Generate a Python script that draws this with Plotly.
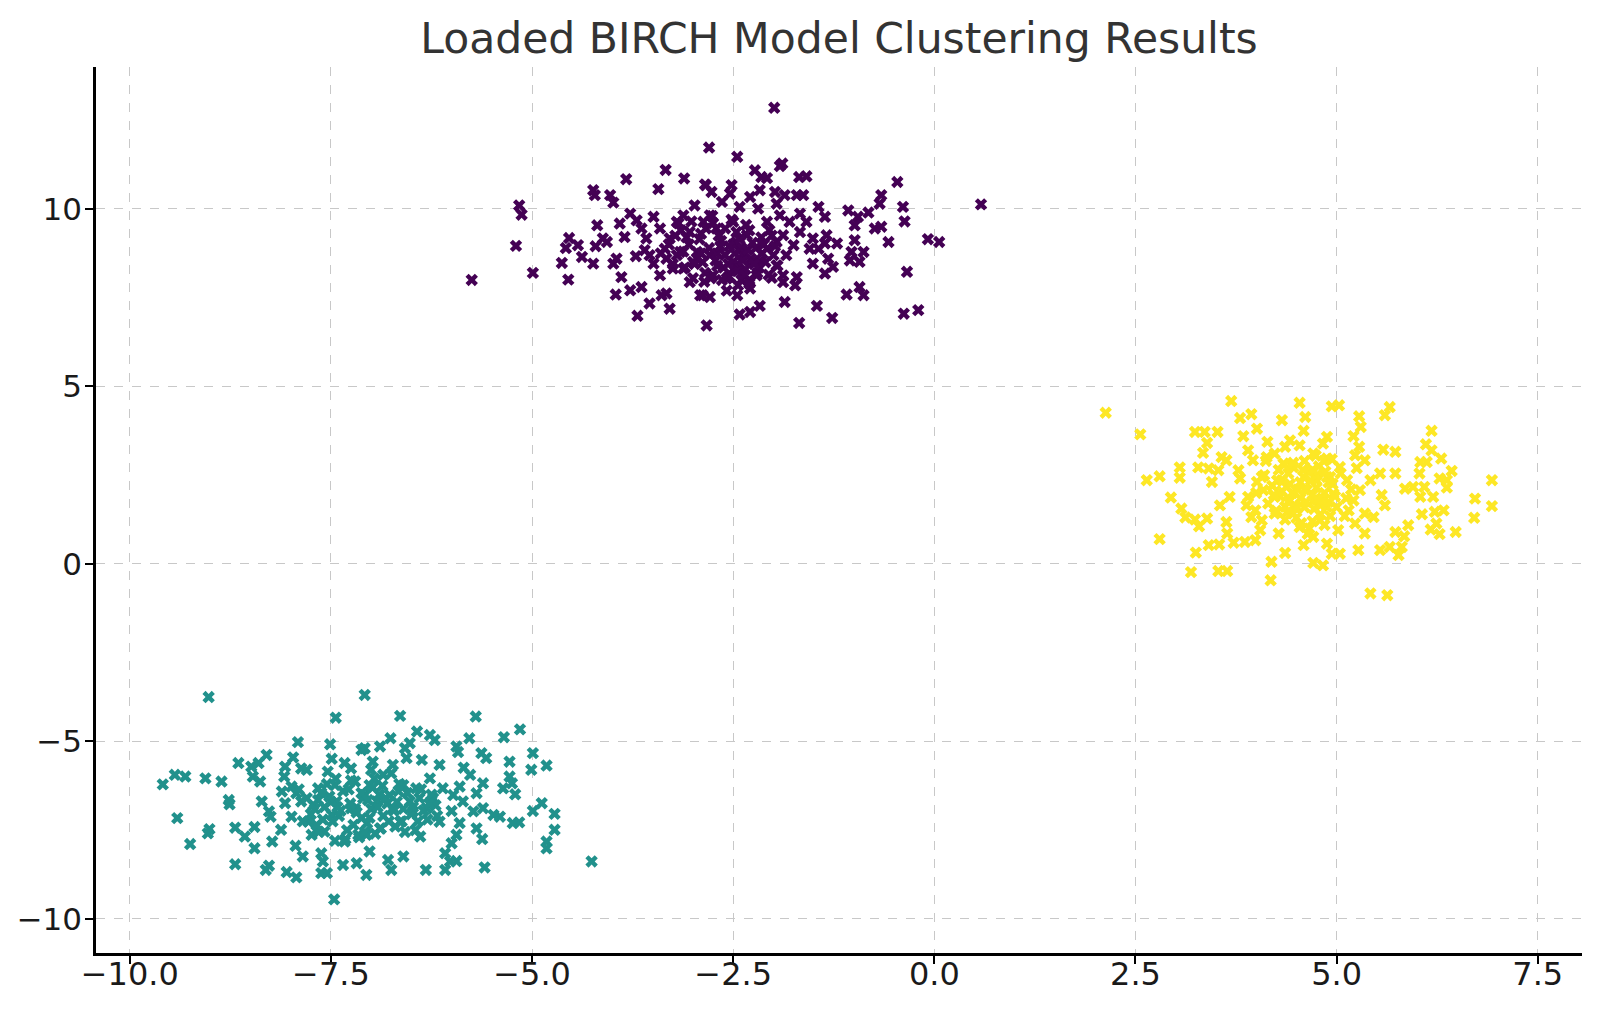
import plotly.graph_objects as go

# cluster points (x, y in data units)
purple_x = [
    -5.75, -5.16, -5.13, -5.20, -4.99, -4.24, -4.22, -4.03, -3.99, -3.83, -3.43, -3.34, -3.11, -2.84, -2.80,
    -4.54, -4.58, -4.43, -4.38, -4.63, -4.55, -4.19, -4.21, -4.12, -4.24, -4.07, -3.99, -3.95, -3.89, -3.96,
    -3.85, -3.91, -3.78, -3.70, -3.71, -3.78, -3.64, -3.54, -3.69, -3.49, -3.60, -3.64, -3.49, -3.41, -3.29,
    -3.33, -3.39, -3.41, -3.35, -3.29, -3.20, -3.12, -2.98, -3.04, -3.16, -3.12, -3.04, -2.91, -2.95, -2.87,
    -3.00, -3.33, -3.25, -3.54, -3.58, -2.83,
    -1.99, -2.45, -1.92, -1.89, -2.23, -2.15, -2.08, -1.68, -1.59, -2.85, -2.77, -2.52, -2.54, -2.29, -2.17,
    -1.98, -1.86, -1.71, -1.63, -1.96, -2.64, -2.42, -2.19, -0.46, -0.66, -0.68, -0.39, -0.37, -0.08, 0.06,
    -0.34, -0.38, -0.20, -1.09, -0.93, -0.88, -1.46, -1.27, -1.68, -1.86, -2.17, -2.29, -2.42, -2.79, -2.45,
    -1.07, -0.95, -0.82, -0.99, -0.74, -0.66, -0.57, -0.99, -1.03, -0.88, -0.93, -1.05, -1.21, -1.34, -1.36,
    -1.44, -1.36, -1.32, -1.26, -1.36, -1.51, -1.55, -1.67, -1.59, -1.67, -1.80, -1.88, -1.75, -1.84, -1.71,
    -1.73, -1.88, -2.02, -1.96, -2.08, -2.17, -2.21, -2.29, -2.38, -2.33, -2.08, -2.50, -2.46, -2.50, -2.58,
    -2.75, -2.79, -2.71, -2.79, -2.67, -2.44, -2.25, -1.96, -1.92, -1.51, -1.44, -2.88, -1.88, 0.58,
    -3.05, -2.95, -2.90, -2.85, -2.80, -2.75, -2.70, -2.65, -2.60, -2.55, -2.50, -2.45, -2.40, -2.35, -2.30,
    -2.28, -2.22, -2.20, -2.15, -2.10, -3.20, -3.15, -3.10, -3.00, -2.60, -2.40, -2.30, -2.50, -2.70, -2.90,
    -3.30, -3.40, -2.00, -2.05, -1.95,
    -2.45, -2.38, -2.32, -2.42, -2.36, -2.48, -2.26, -2.55, -2.62, -2.68, -2.72, -2.78, -2.84, -2.92, -2.98,
    -3.08, -3.12, -3.18, -3.25, -2.18, -2.12, -2.06, -2.02, -1.98, -2.44, -2.34, -2.52, -2.64, -2.76, -2.88,
    -3.02, -2.56, -2.66, -2.46, -2.30, -2.24, -2.14, -2.86, -3.22, -2.58,
]
purple_y = [
    8.00, 10.10, 9.84, 8.96, 8.20, 10.53, 10.39, 10.39, 10.18, 10.84, 10.56, 11.10, 10.86, 10.67, 11.73,
    9.18, 8.90, 8.98, 8.65, 8.48, 8.01, 9.54, 8.95, 9.17, 8.46, 9.07, 8.46, 8.60, 8.08, 7.59,
    9.21, 9.59, 9.87, 9.68, 8.67, 7.71, 7.80, 7.34, 6.99, 8.46, 8.84, 9.45, 9.78, 9.45, 7.19,
    7.62, 7.57, 8.13, 8.88, 9.17, 9.64, 9.82, 10.10, 9.35, 8.79, 8.32, 7.94, 7.57, 8.79, 9.64,
    8.51, 8.60, 8.32, 8.70, 9.17, 6.72,
    12.85, 11.47, 11.21, 11.28, 11.09, 10.90, 10.87, 10.90, 10.92, 10.69, 10.48, 10.67, 10.43, 10.34, 10.53,
    10.48, 10.39, 10.39, 10.39, 10.15, 10.20, 10.06, 10.01, 10.76, 10.39, 10.15, 10.06, 9.65, 9.15, 9.07,
    8.23, 7.05, 7.15, 7.59, 7.80, 7.57, 7.27, 6.93, 6.79, 7.38, 7.27, 7.10, 7.03, 7.52, 7.57,
    9.96, 9.78, 9.90, 9.54, 9.45, 9.50, 9.07, 9.12, 8.79, 8.79, 8.51, 8.55, 9.03, 9.26, 9.03,
    10.06, 9.78, 8.60, 8.37, 8.18, 8.46, 8.88, 9.35, 9.64, 9.87, 9.64, 9.26, 8.98, 8.70, 8.08,
    7.85, 7.94, 8.06, 8.41, 8.88, 8.51, 8.13, 7.76, 8.70, 9.26, 9.64, 9.64, 9.07, 8.51, 8.04,
    8.13, 8.70, 9.45, 9.82, 9.26, 8.27, 8.51, 9.07, 9.82, 9.17, 8.88, 7.57, 8.13, 10.13,
    9.00, 8.60, 9.30, 8.20, 8.90, 9.60, 8.40, 9.10, 8.70, 8.10, 9.00, 8.45, 8.90, 8.30, 9.40,
    8.60, 8.90, 8.20, 9.20, 8.50, 8.70, 9.40, 8.35, 8.05, 9.45, 8.00, 8.00, 8.30, 8.75, 8.75,
    9.00, 8.75, 8.70, 9.40, 8.40,
    8.25, 8.55, 8.85, 9.15, 8.15, 8.75, 9.05, 8.95, 8.35, 9.25, 8.55, 8.05, 9.45, 9.15, 8.45,
    9.20, 8.80, 9.60, 8.45, 8.35, 9.00, 8.15, 9.25, 8.95, 7.85, 9.55, 9.70, 8.00, 9.80, 8.50,
    9.65, 8.45, 8.95, 9.35, 7.90, 8.45, 8.75, 7.95, 9.25, 7.70,
]

teal_x = [
    -9.02, -9.59, -9.44, -9.31, -9.06, -8.86, -9.41, -9.25, -9.03, -9.01, -8.77, -8.76, -8.65, -8.69, -8.69,
    -8.57, -8.45, -8.45, -8.49, -8.40, -8.30, -8.47, -8.38, -8.36, -8.27, -8.25, -8.23, -8.27, -8.31, -8.12,
    -8.05, -7.93, -7.94, -7.85, -7.91, -7.97, -8.07, -8.08, -7.87, -7.80, -8.11, -8.07, -7.99, -7.93, -7.87,
    -7.78, -7.74, -7.66, -7.72, -7.62, -7.60, -7.62, -7.55, -7.46, -7.44, -7.51, -7.49, -7.54, -7.45, -7.43,
    -7.49, -7.58, -7.33, -7.25, -7.20, -7.35, -7.18, -7.08, -7.12, -7.08, -7.12, -7.25, -7.33, -7.16, -7.06,
    -7.66, -7.99,
    -6.64, -5.70, -5.15, -5.35, -6.43, -6.27, -6.21, -5.78, -6.76, -6.52, -5.94, -5.92, -7.08, -6.89, -6.58,
    -5.63, -5.57, -5.28, -4.99, -5.01, -4.82, -5.85, -5.77, -5.28, -5.25, -5.36, -5.21, -5.61, -5.69, -5.90,
    -4.88, -4.99, -4.72, -4.72, -4.82, -4.82, -4.26, -5.16, -5.24, -5.40, -5.48, -5.61, -5.73, -5.69, -5.62,
    -5.90, -5.94, -6.00, -5.86, -5.59, -5.94, -6.08, -6.08, -6.02, -6.32, -6.75, -6.79, -6.60, -6.39, -6.15,
    -6.31, -6.48, -6.64, -6.73, -6.89, -7.02, -7.06, -6.93, -7.02, -6.85, -6.73, -6.56, -6.37, -6.15, -6.27,
    -6.11, -6.44, -6.60, -6.77, -6.52, -6.23, -5.98, -6.98, -6.00,
    -7.50, -7.40, -7.35, -7.30, -7.20, -7.10, -7.05, -7.00, -6.95, -6.90, -6.85, -6.80, -6.70, -6.65, -7.15,
    -7.45, -7.60, -7.70, -7.55, -6.60, -6.50, -6.40, -6.30, -6.20, -7.25, -7.00, -6.75, -7.80, -7.65, -6.45,
    -7.52, -7.48, -7.42, -7.38, -7.28, -7.22, -7.18, -7.12, -7.02, -6.98, -6.92, -6.88, -6.82, -6.72, -6.68,
    -6.62, -6.55, -6.48, -6.42, -6.35, -6.25, -6.18, -7.58, -7.62, -7.68, -7.75, -7.85, -7.90, -7.32, -7.08,
    -6.96, -6.78, -6.58, -6.38, -7.44, -7.26, -7.04, -6.86, -6.66, -6.28,
]
teal_y = [
    -3.75, -6.21, -5.94, -5.99, -6.04, -6.13, -7.16, -7.89, -7.59, -7.47, -6.65, -6.77, -5.61, -7.43, -8.46,
    -7.68, -7.41, -8.01, -5.71, -5.61, -5.38, -5.99, -6.13, -6.69, -6.97, -7.12, -7.82, -8.50, -8.62, -7.49,
    -8.68, -8.83, -7.94, -8.24, -5.02, -5.45, -5.71, -5.99, -5.76, -5.80, -6.41, -6.74, -7.12, -6.46, -6.69,
    -7.26, -7.63, -6.32, -6.79, -8.15, -8.38, -8.71, -8.71, -9.45, -4.33, -5.08, -5.49, -5.85, -6.23, -6.69,
    -7.07, -7.54, -5.61, -5.76, -6.13, -8.48, -8.43, -3.69, -5.24, -6.51, -7.16, -6.88, -7.82, -7.63, -8.76,
    -6.65, -6.27,
    -4.28, -4.30, -4.66, -4.88, -4.72, -4.82, -4.96, -4.91, -4.91, -5.05, -5.14, -5.30, -5.19, -5.14, -5.19,
    -5.33, -5.47, -5.57, -5.33, -5.80, -5.68, -5.74, -5.94, -5.99, -6.18, -6.32, -6.49, -6.18, -6.46, -6.27,
    -6.74, -6.96, -7.04, -7.49, -7.82, -8.01, -8.38, -7.28, -7.30, -7.12, -7.07, -6.88, -6.97, -7.45, -7.75,
    -7.30, -7.63, -6.96, -6.69, -8.55, -8.37, -8.15, -8.62, -8.38, -8.62, -8.62, -8.34, -8.24, -7.68, -7.26,
    -6.88, -6.97, -7.26, -6.88, -7.45, -8.10, -7.63, -6.69, -6.23, -5.94, -5.66, -5.47, -5.52, -5.66, -6.04,
    -6.32, -6.32, -6.23, -6.51, -6.69, -6.60, -6.51, -5.57, -7.87,
    -6.70, -7.10, -6.40, -7.50, -6.90, -6.60, -7.30, -6.90, -7.60, -6.50, -7.10, -6.75, -7.40, -6.20, -7.70,
    -7.80, -7.20, -6.90, -6.20, -6.90, -7.05, -6.60, -7.20, -6.80, -6.10, -5.80, -5.90, -6.60, -7.55, -7.50,
    -6.55, -7.25, -6.85, -6.95, -6.35, -7.35, -7.00, -6.45, -7.15, -6.30, -6.85, -7.45, -6.60, -6.95, -6.70,
    -7.25, -6.45, -6.85, -7.25, -6.95, -6.50, -7.10, -6.85, -6.45, -7.35, -7.05, -7.25, -6.35, -7.75, -7.55,
    -6.05, -7.25, -7.55, -6.35, -6.05, -6.75, -6.65, -6.25, -6.40, -6.75,
]

yellow_x = [
    2.13, 2.56, 2.64, 2.80, 2.80, 2.94, 3.05, 3.05, 3.07, 3.12, 3.24, 3.29, 3.39, 3.25, 3.19,
    3.24, 3.36, 3.52, 3.39, 3.34, 3.28, 3.41, 3.45, 3.57, 3.63, 3.53, 3.41, 3.54, 3.63, 3.64,
    3.72, 3.53, 3.64, 3.69, 3.80, 3.94, 3.84, 4.01, 3.78, 3.80, 3.90, 3.96, 3.55, 3.67, 3.88,
    3.94, 4.01, 4.07, 4.14, 4.32, 4.13, 3.86, 3.99, 4.05, 4.19, 4.18, 4.28, 4.36, 4.09, 4.23,
    4.32, 4.23, 4.36, 3.99, 4.07, 4.23, 4.36, 4.34, 3.90,
    4.54, 4.94, 5.03, 4.61, 4.59, 5.66, 5.60, 5.28, 5.30, 5.21, 4.88, 4.83, 6.18, 6.11, 6.18,
    6.30, 5.58, 5.73, 5.28, 5.23, 5.35, 6.04, 6.03, 6.12, 6.43, 6.28, 6.37, 6.37, 6.09, 5.95,
    5.85, 6.20, 6.93, 6.72, 6.93, 6.71, 6.48, 6.33, 6.22, 6.06, 6.24, 6.28, 6.17, 5.89, 5.84,
    5.73, 5.81, 5.77, 5.66, 5.54, 5.42, 5.63, 5.60, 5.56, 5.46, 5.35, 5.54, 5.73, 5.42, 5.29,
    5.21, 5.15, 5.23, 5.35, 5.27, 5.04, 4.83, 4.71, 4.59, 4.71, 4.88, 4.94, 4.54, 4.46, 4.79,
    4.88, 4.71, 4.96, 5.13, 5.04, 4.88, 4.71, 4.54, 4.42, 4.46, 4.59, 4.75, 4.63, 4.38, 4.42,
    4.92, 6.04,
    4.45, 4.55, 4.60, 4.65, 4.70, 4.75, 4.80, 4.85, 4.90, 4.50, 4.40, 4.60, 4.75, 4.95, 4.30,
    4.20, 4.15, 4.10, 4.00, 4.25, 4.70, 4.85, 4.55, 5.00, 4.35,
    4.62, 4.68, 4.72, 4.78, 4.82, 4.88, 4.92, 4.58, 4.52, 4.48, 4.42, 4.38, 4.32, 4.28, 4.22,
    4.98, 5.05, 5.10, 5.18, 5.25, 4.66, 4.74, 4.84, 4.56, 4.46, 4.36, 4.94, 5.02, 4.70, 4.80,
    4.60, 4.50, 4.40, 4.90, 5.12, 4.26, 4.12, 4.64, 4.76, 4.86,
]
yellow_y = [
    4.26, 3.65, 2.36, 2.47, 0.70, 1.87, 2.72, 2.43, 1.56, 1.31, 1.25, 1.06, 1.28, 0.32, -0.23,
    3.72, 3.72, 3.72, 3.41, 3.13, 2.72, 2.69, 2.31, 3.01, 2.92, 2.64, 0.53, 0.55, 1.18, 0.86,
    0.60, -0.20, -0.20, 4.59, 4.11, 4.22, 3.60, 3.81, 2.64, 2.41, 3.20, 2.92, 1.65, 1.89, 1.65,
    1.32, 2.31, 2.45, 3.44, 4.05, 3.01, 0.62, 0.67, 0.95, 0.06, -0.46, 0.86, 0.31, 2.08, 1.89,
    2.36, 3.11, 3.30, 1.51, 1.23, 1.42, 1.61, 2.83, 1.89,
    4.54, 4.44, 4.47, 4.14, 3.75, 4.42, 4.19, 4.16, 3.86, 3.60, 3.58, 3.39, 3.75, 3.37, 3.20,
    2.97, 3.22, 3.16, 3.30, 3.06, 2.92, 2.87, 2.55, 2.87, 2.62, 2.41, 2.36, 2.15, 2.17, 2.17,
    2.12, 1.89, 2.36, 1.84, 1.63, 1.30, 0.90, 1.51, 1.47, 1.40, 1.14, 0.84, 0.97, 1.09, 0.78,
    0.90, 0.48, 0.25, 0.48, 0.39, -0.83, -0.88, 1.65, 1.94, 1.32, 1.42, 2.55, 2.55, 2.36, 2.08,
    1.79, 1.51, 1.14, 0.86, 0.39, 0.29, -0.04, 0.03, 0.53, 0.76, 0.57, 0.29, 1.04, 1.42, 1.23,
    1.61, 1.79, 1.98, 2.36, 2.73, 2.97, 3.11, 3.34, 3.48, 2.73, 2.45, 2.36, 2.08, 2.17, 1.79,
    2.45, 1.89,
    2.00, 2.30, 1.60, 2.60, 1.95, 2.15, 1.40, 2.00, 1.75, 1.30, 2.55, 2.90, 2.50, 2.25, 1.90,
    2.20, 1.70, 2.50, 2.00, 1.50, 1.20, 1.10, 1.85, 1.60, 2.80,
    1.75, 2.35, 1.55, 2.75, 1.85, 2.45, 1.35, 2.65, 2.10, 1.65, 2.25, 1.45, 2.05, 2.65, 1.95,
    1.90, 2.55, 1.35, 2.10, 2.70, 1.00, 3.05, 2.90, 1.15, 2.85, 1.25, 2.95, 0.95, 2.65, 1.65,
    2.10, 1.55, 1.75, 2.30, 1.85, 2.35, 2.90, 0.85, 1.80, 2.60,
]

clusters = [
    (purple_x, purple_y, "#440154"),
    (teal_x, teal_y, "#21918c"),
    (yellow_x, yellow_y, "#fde725"),
]

x_ticks = [-10.0, -7.5, -5.0, -2.5, 0.0, 2.5, 5.0, 7.5]
x_tick_labels = ["\u221210.0", "\u22127.5", "\u22125.0", "\u22122.5", "0.0", "2.5", "5.0", "7.5"]
y_ticks = [-10, -5, 0, 5, 10]
y_tick_labels = ["\u221210", "\u22125", "0", "5", "10"]

fig = go.Figure()
for xs, ys, color in clusters:
    fig.add_trace(go.Scatter(x=xs, y=ys, mode="markers",
                             marker=dict(symbol="x", size=11, color=color, line=dict(width=0)),
                             showlegend=False))

axis_style = dict(showline=True, linecolor="black", linewidth=2.5, mirror=False,
                  ticks="outside", ticklen=8, tickwidth=2, tickcolor="black",
                  showgrid=True, gridcolor="#c8c8c8", gridwidth=1, griddash="dash",
                  zeroline=False, automargin=False)

fig.update_xaxes(range=[-10.42, 8.05], tickvals=x_ticks, ticktext=x_tick_labels,
                 tickfont=dict(size=32, color="#1a1a1a"), ticklabelstandoff=-17, **axis_style)
fig.update_yaxes(range=[-10.96, 14.0], tickvals=y_ticks, ticktext=y_tick_labels,
                 tickfont=dict(size=31, color="#1a1a1a"), ticklabelstandoff=-3, **axis_style)

# the page body adds an 8px offset, margins are set so the axes land where the reference has them
fig.update_layout(
    width=1600, height=1013,
    margin=dict(l=88, r=26, t=59, b=68),
    paper_bgcolor="white", plot_bgcolor="white",
    font=dict(family="DejaVu Sans"),
    title=dict(text="Loaded BIRCH Model Clustering Results", x=0.5, xref="paper",
               y=1 - 30 / 1013, yref="container", yanchor="middle",
               font=dict(size=42.5, color="#333333")),
)

fig.write_html("out.html")
